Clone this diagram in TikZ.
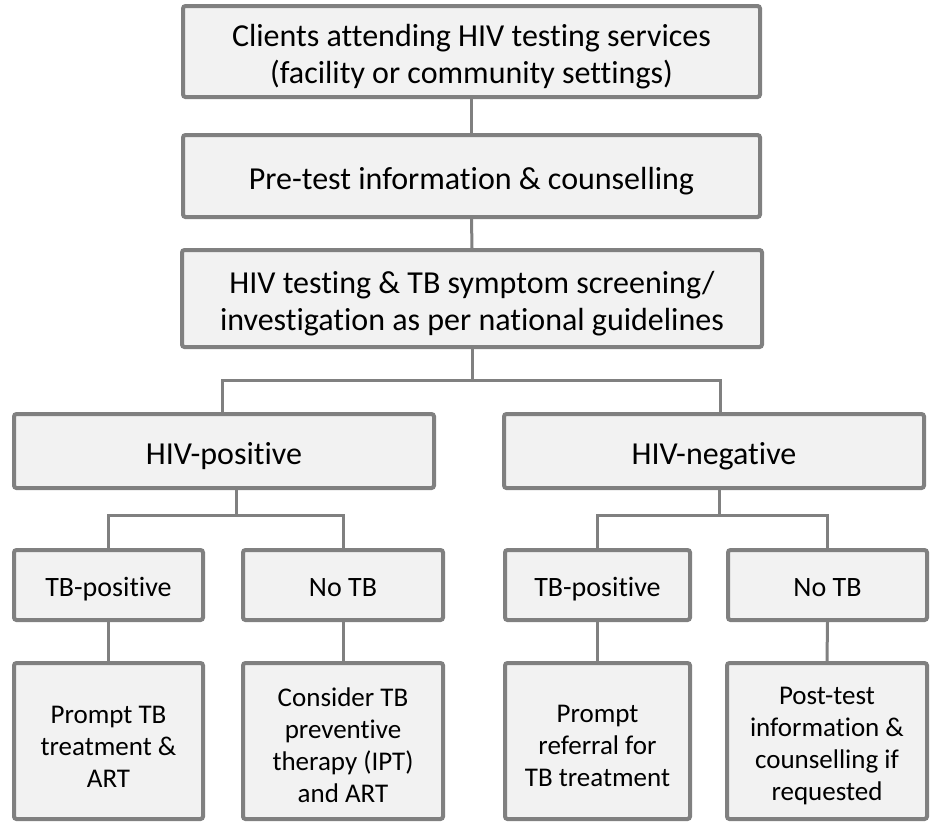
\documentclass[tikz,border=0pt]{standalone}
\usepackage{fontspec}
\setmainfont{Carlito}[Ligatures={NoCommon}]
\definecolor{boxfill}{HTML}{F2F2F2}
\definecolor{boxline}{HTML}{808080}
\newcommand\myBigStrut{\rule{0pt}{33pt}}
\newcommand\mySmallStrut{\rule{0pt}{28pt}}
\tikzset{
  flowbox/.style={draw=boxline, fill=boxfill, line width=4pt, rounded corners=2.5pt,
    inner sep=0pt, align=center, anchor=center},
  bigtext/.style={font=\fontsize{32}{37}\selectfont},
  midtext/.style={font=\fontsize{28}{33}\selectfont, text height=28pt, text depth=6pt},
  smalltext/.style={font=\fontsize{27}{32}\selectfont},
  link/.style={draw=boxline, line width=3pt}
}
\begin{document}
\begin{tikzpicture}[x=1pt,y=-1pt]
\useasboundingbox (0,0) rectangle (930,822);
% top chain
\node[flowbox,bigtext,minimum width=577pt,minimum height=91pt] (b1) at (471.5,51.5)
  {\myBigStrut Clients attending HIV testing services\\(facility or community settings)};
\node[flowbox,bigtext,minimum width=577pt,minimum height=82pt] (b2) at (471.5,176)
  {\myBigStrut Pre-test information \& counselling};
\node[flowbox,bigtext,minimum width=580pt,minimum height=97pt] (b3) at (472,298.5)
  {\myBigStrut HIV testing \& TB symptom screening/\\investigation as per national guidelines};
% HIV result
\node[flowbox,bigtext,minimum width=420pt,minimum height=74pt] (hp) at (224,451) {\myBigStrut HIV-positive};
\node[flowbox,bigtext,minimum width=420pt,minimum height=74pt] (hn) at (714,451) {\myBigStrut HIV-negative};
% TB result
\node[flowbox,midtext,minimum width=189pt,minimum height=70pt] (tp1) at (108.5,585) {TB-positive};
\node[flowbox,midtext,minimum width=200pt,minimum height=70pt] (nt1) at (343,585) {No TB};
\node[flowbox,midtext,minimum width=185pt,minimum height=70pt] (tp2) at (597.5,585) {TB-positive};
\node[flowbox,midtext,minimum width=199pt,minimum height=70pt] (nt2) at (827.5,585) {No TB};
% actions
\node[flowbox,smalltext,minimum width=189pt,minimum height=156pt] (r1) at (108.5,741)
  {\mySmallStrut Prompt TB\\treatment \&\\ART};
\node[flowbox,smalltext,minimum width=200pt,minimum height=156pt] (r2) at (343,741)
  {\mySmallStrut Consider TB\\preventive\\therapy (IPT)\\and ART};
\node[flowbox,smalltext,minimum width=185pt,minimum height=156pt] (r3) at (597.5,741)
  {\mySmallStrut Prompt\\referral for\\TB treatment};
\node[flowbox,smalltext,minimum width=200pt,minimum height=156pt] (r4) at (827,741)
  {\mySmallStrut Post-test\\information \&\\counselling if\\requested};
% connectors
\coordinate (t1) at (222,380);
\coordinate (t2) at (720,380);
\coordinate (p1) at (236,515);
\coordinate (q1) at (719,515);
\draw[link] (b1.south) -- (b2.north);
\draw[link] (b2.south) -- (b3.north);
\draw[link] (b3.south) -- (b3.south |- t1);
\draw[link] (hp.north -| t1) -- (t1) -- (t2) -- (hn.north -| t2);
\draw[link] (hp.south -| p1) -- (p1);
\draw[link] (tp1.north) -- (tp1.north |- p1) -- (nt1.north |- p1) -- (nt1.north);
\draw[link] (hn.south -| q1) -- (q1);
\draw[link] (tp2.north) -- (tp2.north |- q1) -- (nt2.north |- q1) -- (nt2.north);
\draw[link] (tp1.south) -- (r1.north);
\draw[link] (nt1.south) -- (r2.north);
\draw[link] (tp2.south) -- (r3.north);
\draw[link] (nt2.south) -- (r4.north);
\end{tikzpicture}
\end{document}
